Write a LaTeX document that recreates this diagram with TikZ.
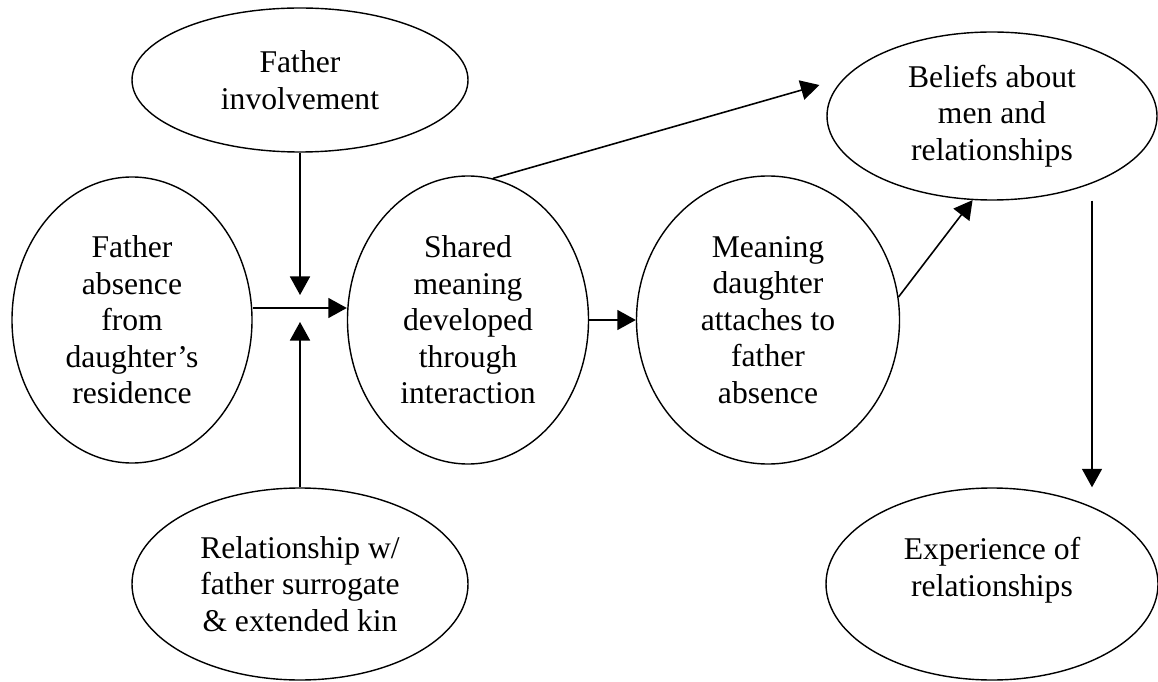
\documentclass[tikz,border=0pt]{standalone}
\usepackage{fontspec}
\setmainfont{Liberation Serif}
\usepackage{tikz}
\usetikzlibrary{arrows.meta,shapes.geometric}
\tikzset {
	concept/.style={ellipse, draw, line width=0.8pt, align=center, inner sep=0pt,
					font=\fontsize{18}{20.8}\selectfont},
	link/.style={line width=0.9pt, -{Triangle[length=0.37cm, width=0.4cm]}}
}
\begin{document}
\begin{tikzpicture}
					\useasboundingbox (0,0) rectangle (23.16,13.62);
					\node [concept, minimum width=6.72cm, minimum height=2.88cm] (involvement) at (6.0,12.02) {Father\\involvement};
					\node [concept, minimum width=4.8cm, minimum height=5.72cm] (absence) at (2.64,7.22) {Father\\absence\\from\\daughter’s\\residence};
					\node [concept, minimum width=4.82cm, minimum height=5.76cm] (shared) at (9.36,7.22) {Shared\\meaning\\developed\\through\\interaction};
					\node [concept, minimum width=5.26cm, minimum height=5.76cm] (meaning) at (15.36,7.22) {Meaning\\daughter\\attaches to\\father\\absence};
					\node [concept, minimum width=6.6cm, minimum height=3.36cm] (beliefs) at (19.84,11.3) {Beliefs about\\men and\\relationships};
					\node [concept, minimum width=6.72cm, minimum height=3.84cm] (surrogate) at (6.0,1.94) {Relationship w/\\father surrogate\\\& extended kin};
					\node [concept, minimum width=6.64cm, minimum height=3.84cm] (experience) at (19.84,1.94) {Experience of\\relationships\\[-0.05cm]};
					\coordinate (moderatorTop) at (6.0,7.72);
					\coordinate (moderatorBottom) at (6.0,7.18);
					\draw [link] (involvement.south) -- (moderatorTop);
					\draw [link] (surrogate.north) -- (moderatorBottom);
					\draw [link] ([yshift=0.24cm]absence.east) -- ([yshift=0.24cm]shared.west);
					\draw [link] (shared.east) -- (meaning.west);
					\draw [link] (shared.80) -- ([xshift=-0.14cm, yshift=0.62cm]beliefs.west);
					\draw [link] (meaning.10) -- (beliefs.257);
					\draw [link] ([xshift=2cm]beliefs.south) -- ([xshift=2cm]experience.north);
\end{tikzpicture}
\end{document}
